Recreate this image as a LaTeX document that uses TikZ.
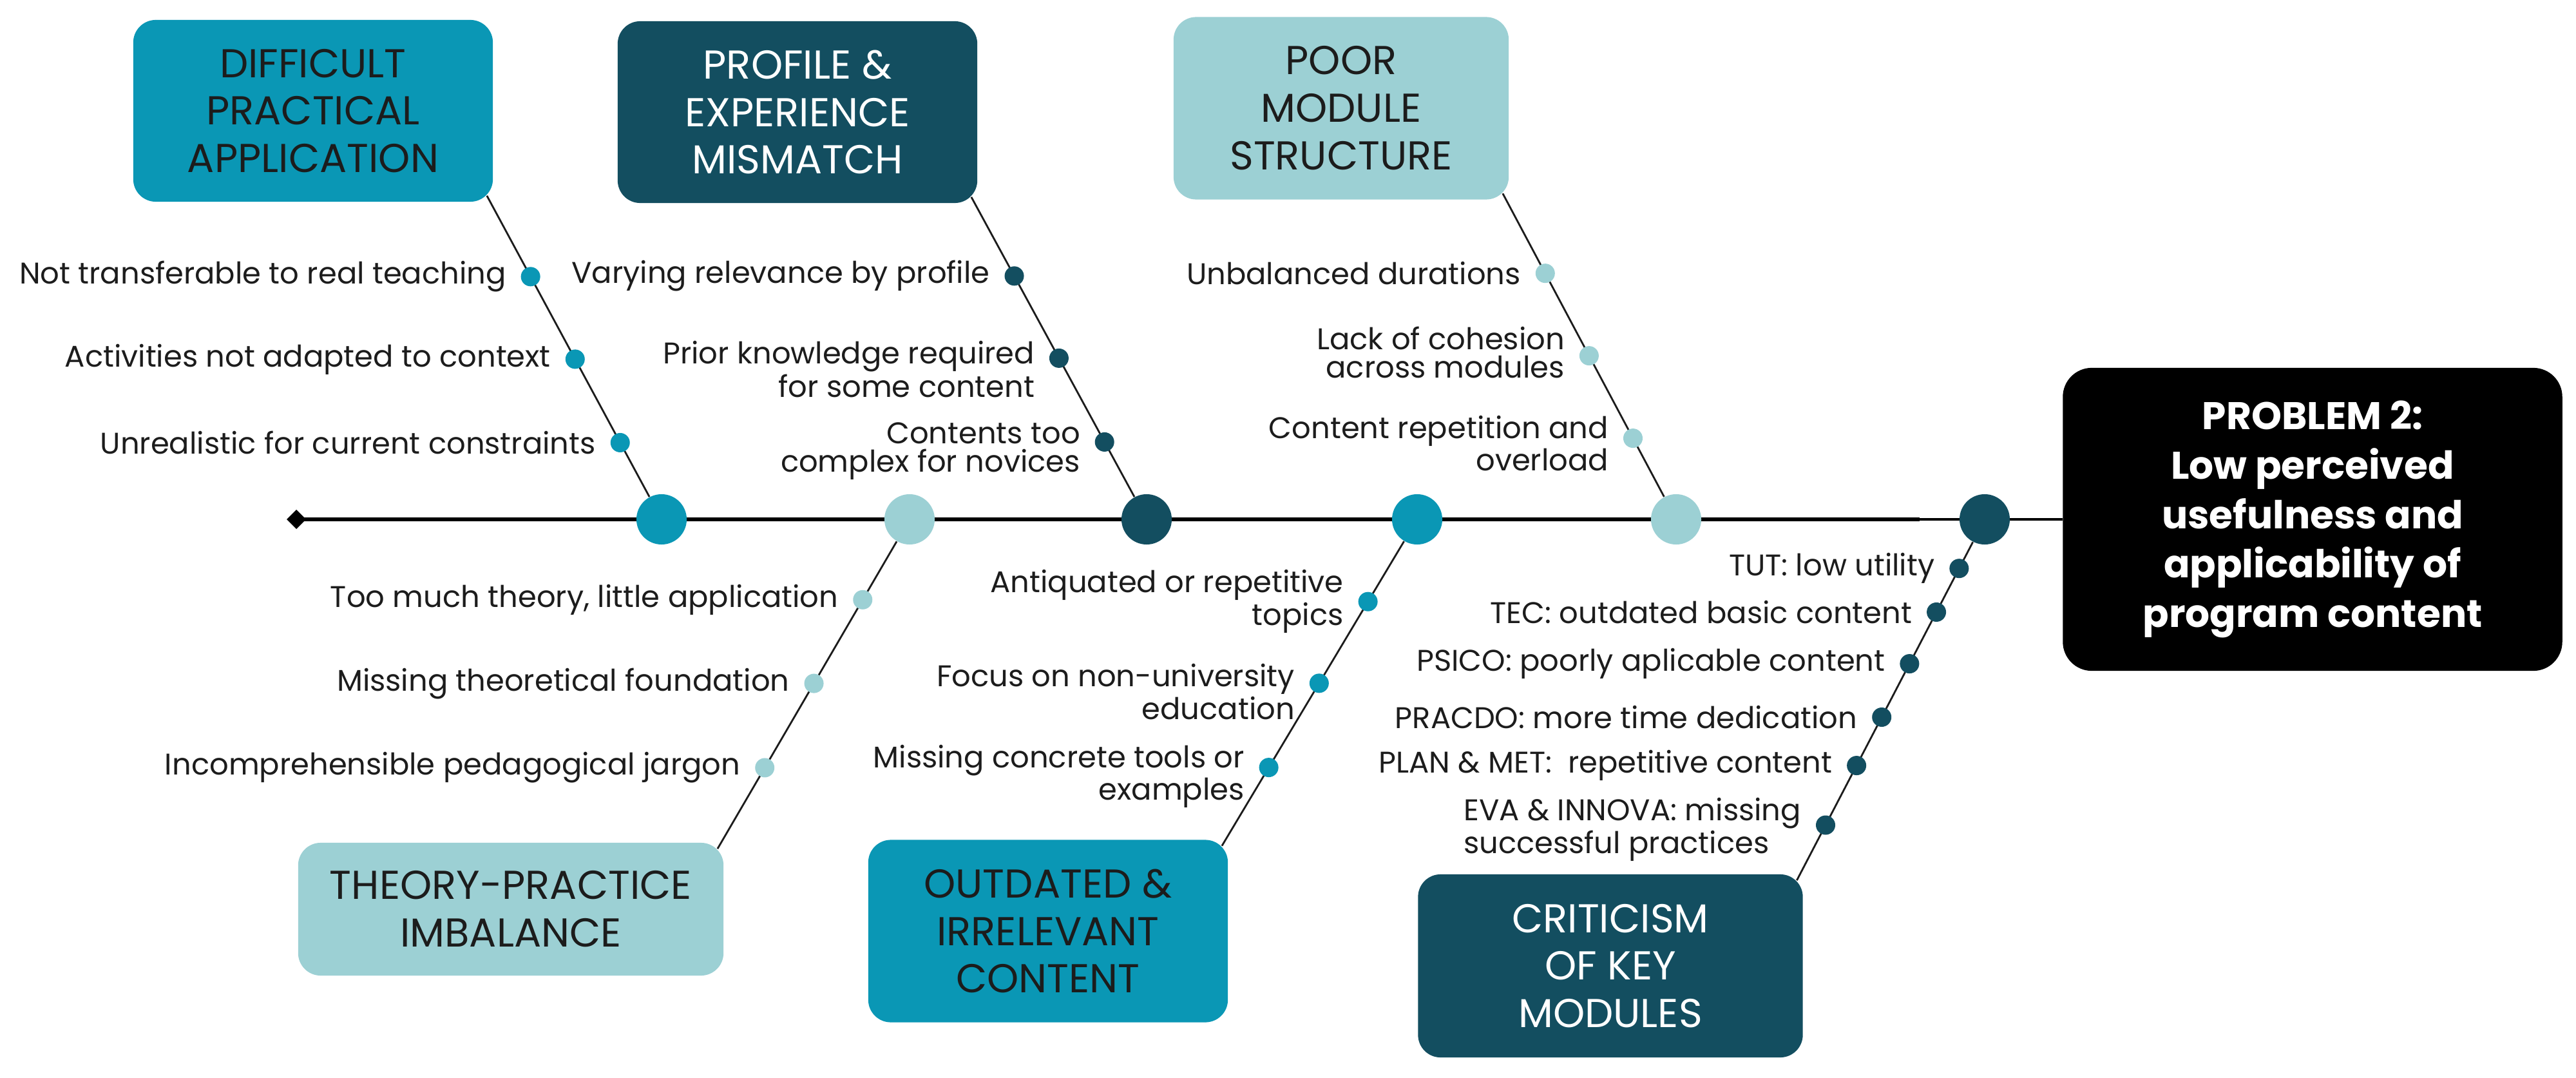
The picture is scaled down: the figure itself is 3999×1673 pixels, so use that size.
\documentclass[tikz,border=0pt]{standalone}
\usepackage{fontspec}
\setmainfont{Poppins}
\usetikzlibrary{positioning,calc,backgrounds,arrows.meta}

\definecolor{teal1}{HTML}{0A97B5}
\definecolor{deep}{HTML}{134E60}
\definecolor{pale}{HTML}{9CD0D4}
\definecolor{ink}{HTML}{1C1C1C}

\tikzset{
  catbox/.style={rounded corners=0.35cm, align=center, inner sep=0pt,
    font=\fontsize{17.8}{21}\selectfont},
  tealbox/.style={catbox, fill=teal1, text=ink},
  deepbox/.style={catbox, fill=deep, text=white},
  palebox/.style={catbox, fill=pale, text=ink},
  probbox/.style={fill=black, text=white, rounded corners=0.45cm, align=center,
    minimum width=7.75cm, minimum height=4.7cm,
    font=\fontsize{17}{21.8}\selectfont\bfseries},
  knot/.style={circle, minimum size=0.78cm, inner sep=0pt},
  dot/.style={circle, minimum size=0.3cm, inner sep=0pt},
  cause/.style={font=\fontsize{13.2}{12.5}\selectfont, text=ink, inner sep=1pt, align=right},
  bone/.style={line width=0.8pt, draw=ink},
  spine/.style={line width=1.5pt, draw=black}
}

\begin{document}
\begin{tikzpicture}[x=0.01cm, y=-0.01cm]
\useasboundingbox (0,0) rectangle (3999,1673);

% category boxes
\node[tealbox, minimum width=5.58cm, minimum height=2.82cm] (diff) at (486,172) {DIFFICULT\\PRACTICAL\\APPLICATION};
\node[deepbox, minimum width=5.58cm, minimum height=2.82cm] (prof) at (1238,174) {PROFILE \&\\EXPERIENCE\\MISMATCH};
\node[palebox, minimum width=5.2cm, minimum height=2.83cm] (poor) at (2082,168) {POOR\\MODULE\\STRUCTURE};
\node[palebox, minimum width=6.6cm, minimum height=2.06cm] (theo) at (793,1411) {THEORY-PRACTICE\\IMBALANCE};
\node[tealbox, minimum width=5.58cm, minimum height=2.83cm] (outd) at (1627,1445) {OUTDATED \&\\IRRELEVANT\\CONTENT};
\node[deepbox, minimum width=5.97cm, minimum height=2.84cm] (crit) at (2500,1499) {CRITICISM\\OF KEY\\MODULES};

% problem (head)
\node[probbox] (prob) at (3590,806) {PROBLEM 2:\\Low perceived\\usefulness and\\applicability of\\program content};

% knots on the spine
\node[knot, fill=teal1] (c1) at (1027,806) {};
\node[knot, fill=pale]  (c2) at (1412,806) {};
\node[knot, fill=deep]  (c3) at (1780,806) {};
\node[knot, fill=teal1] (c4) at (2200,806) {};
\node[knot, fill=pale]  (c5) at (2602,806) {};
\node[knot, fill=deep]  (c6) at (3081,806) {};

\coordinate (tail) at (445,806);
\coordinate (thin) at (2980,806);

\coordinate (b1) at ([shift={(-10,-10)}]diff.south east);
\coordinate (b2) at ([shift={(-10,-10)}]prof.south east);
\coordinate (b3) at ([shift={(-10,-10)}]poor.south east);
\coordinate (b4) at ([shift={(-10,10)}]theo.north east);
\coordinate (b5) at ([shift={(-10,10)}]outd.north east);
\coordinate (b6) at ([shift={(-10,10)}]crit.north east);

% difficult practical application
\node[dot, fill=teal1] (d11) at ($(b1)!0.25!(c1)$) {};
\node[dot, fill=teal1] (d12) at ($(b1)!0.505!(c1)$) {};
\node[dot, fill=teal1] (d13) at ($(b1)!0.763!(c1)$) {};
\node[cause, left=0.18cm of d11] (t11) {Not transferable to real teaching};
\node[cause, left=0.18cm of d12] (t12) {Activities not adapted to context};
\node[cause, left=0.18cm of d13] (t13) {Unrealistic for current constraints};

% profile & experience
\node[dot, fill=deep] (d21) at ($(b2)!0.245!(c3)$) {};
\node[dot, fill=deep] (d22) at ($(b2)!0.50!(c3)$) {};
\node[dot, fill=deep] (d23) at ($(b2)!0.76!(c3)$) {};
\node[cause, left=0.18cm of d21] (t21) {Varying relevance by profile};
\node[cause, left=0.18cm of d22, yshift=-0.17cm] (t22) {Prior knowledge required\\for some content};
\node[cause, left=0.18cm of d23, yshift=-0.14cm] (t23) {Contents too\\complex for novices};

% poor module structure
\node[dot, fill=pale] (d31) at ($(b3)!0.245!(c5)$) {};
\node[dot, fill=pale] (d32) at ($(b3)!0.498!(c5)$) {};
\node[dot, fill=pale] (d33) at ($(b3)!0.751!(c5)$) {};
\node[cause, left=0.18cm of d31] (t31) {Unbalanced durations};
\node[cause, left=0.18cm of d32, yshift=0.05cm] (t32) {Lack of cohesion\\across modules};
\node[cause, left=0.18cm of d33, yshift=-0.08cm] (t33) {Content repetition and\\overload};

% theory-practice
\node[dot, fill=pale] (d41) at ($(b4)!0.756!(c2)$) {};
\node[dot, fill=pale] (d42) at ($(b4)!0.502!(c2)$) {};
\node[dot, fill=pale] (d43) at ($(b4)!0.246!(c2)$) {};
\node[cause, left=0.18cm of d41] (t41) {Too much theory, little application};
\node[cause, left=0.18cm of d42] (t42) {Missing theoretical foundation};
\node[cause, left=0.18cm of d43] (t43) {Incomprehensible pedagogical jargon};

% outdated & irrelevant
\node[dot, fill=teal1] (d51) at ($(b5)!0.748!(c4)$) {};
\node[dot, fill=teal1] (d52) at ($(b5)!0.498!(c4)$) {};
\node[dot, fill=teal1] (d53) at ($(b5)!0.240!(c4)$) {};
\node[cause, left=0.18cm of d51] (t51) {Antiquated or repetitive\\topics};
\node[cause, left=0.18cm of d52, yshift=-0.13cm] (t52) {Focus on non-university\\education};
\node[cause, left=0.18cm of d53, yshift=-0.14cm] (t53) {Missing concrete tools or\\examples};

% criticism of key modules
\node[dot, fill=deep] (d61) at ($(b6)!0.864!(c6)$) {};
\node[dot, fill=deep] (d62) at ($(b6)!0.743!(c6)$) {};
\node[dot, fill=deep] (d63) at ($(b6)!0.600!(c6)$) {};
\node[dot, fill=deep] (d64) at ($(b6)!0.452!(c6)$) {};
\node[dot, fill=deep] (d65) at ($(b6)!0.318!(c6)$) {};
\node[dot, fill=deep] (d66) at ($(b6)!0.153!(c6)$) {};
\node[cause, left=0.18cm of d61] (t61) {TUT: low utility};
\node[cause, left=0.18cm of d62] (t62) {TEC: outdated basic content};
\node[cause, left=0.18cm of d63] (t63) {PSICO: poorly aplicable content};
\node[cause, left=0.18cm of d64] (t64) {PRACDO: more time dedication};
\node[cause, left=0.18cm of d65] (t65) {PLAN \& MET:\ \ repetitive content};
\node[cause, align=left, left=0.18cm of d66, yshift=-0.07cm] (t66) {EVA \& INNOVA: missing\\successful practices};

\begin{scope}[on background layer]
  \draw[spine, {Diamond[length=0.3cm, width=0.3cm]}-] (tail) -- (thin);
  \draw[line width=0.9pt] (thin) -- (prob);
  \draw[bone] (b1) -- (c1);
  \draw[bone] (b2) -- (c3);
  \draw[bone] (b3) -- (c5);
  \draw[bone] (b4) -- (c2);
  \draw[bone] (b5) -- (c4);
  \draw[bone] (b6) -- (c6);
\end{scope}

\end{tikzpicture}
\end{document}
